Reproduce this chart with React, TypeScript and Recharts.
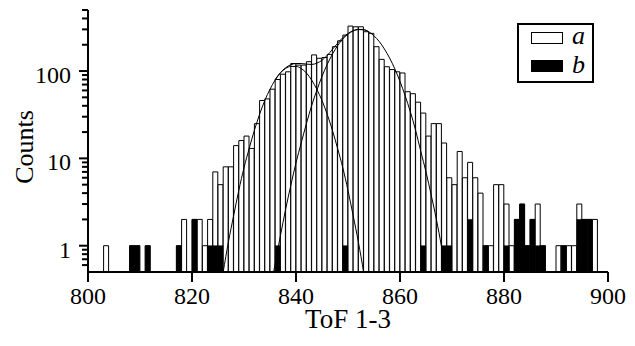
import React from "react";
import { ComposedChart, Bar, Line, XAxis, YAxis, Legend, Label } from "recharts";

const FONT = "'Liberation Serif', 'Times New Roman', serif";

// histogram: one bin per ToF unit, starting at 800
const BIN_START = 800;
const COUNTS_A = [
  0, 0, 0, 1, 0, 0, 0, 0, 1, 1,
  0, 1, 0, 0, 0, 0, 0, 1, 2, 0,
  2, 2, 1, 2, 7, 5, 8, 8, 14, 16,
  18, 13, 25, 46, 48, 62, 80, 92, 98, 122,
  117, 117, 128, 153, 140, 143, 155, 190, 222, 258,
  327, 321, 321, 282, 270, 190, 136, 112, 104, 98,
  95, 58, 55, 44, 33, 18, 25, 25, 15, 6,
  5, 12, 6, 9, 6, 4, 1, 1, 5, 5,
  3, 1, 2, 3, 1, 2, 3, 1, 0, 0,
  1, 1, 1, 1, 3, 2, 2, 2, 0, 0,
];
const COUNTS_B = [
  0, 0, 0, 0, 0, 0, 0, 0, 1, 1,
  0, 1, 0, 0, 0, 0, 0, 1, 0, 0,
  2, 0, 0, 1, 1, 1, 0, 0, 0, 0,
  0, 0, 0, 0, 0, 0, 1, 0, 0, 0,
  0, 0, 0, 0, 0, 0, 0, 0, 0, 1,
  0, 0, 0, 0, 0, 0, 0, 0, 0, 0,
  0, 0, 0, 0, 1, 0, 0, 0, 1, 1,
  0, 0, 0, 2, 0, 0, 1, 0, 0, 0,
  1, 0, 2, 3, 1, 2, 1, 1, 0, 0,
  0, 1, 0, 0, 2, 2, 2, 0, 0, 0,
];

// fitted curves
const G1_X = [826, 827, 828, 829, 830, 831, 832, 833, 834, 835, 836, 837, 838, 839, 840, 841, 842, 843, 844, 845, 846, 847, 848, 849, 850, 851, 852, 853];
const G1_Y = [0.5, 1.1, 2.2, 4.3, 7.8, 13, 21, 32, 46, 62, 79, 95, 107, 113, 113, 107, 95, 79, 62, 46, 32, 21, 13, 7.8, 4.3, 2.2, 1.1, 0.5];
const G2_X = [835.7, 837, 838, 839, 840, 841, 842, 843, 844, 845, 846, 847, 848, 849, 850, 851, 852, 853, 854, 855, 856, 857, 858, 859, 860, 861, 862, 863, 864, 865, 866, 867, 868, 868.9];
const G2_Y = [0.5, 1.3, 2.6, 4.9, 8.9, 15, 25, 40, 60, 87, 119, 156, 195, 233, 265, 288, 299, 297, 281, 253, 218, 179, 141, 106, 76, 52, 34, 21, 12, 7, 3.8, 2, 0.97, 0.5];
const SUM_X = [836, 837, 838, 839, 840, 841, 842, 843, 844, 845, 846, 847, 848, 849, 850, 851, 852, 853, 854];
const SUM_Y = [80, 96, 109, 118, 122, 122, 120, 119, 123, 133, 151, 177, 208, 241, 269, 290, 300, 298, 282];

const X_TICKS = [800, 820, 840, 860, 880, 900];
const Y_TICKS = [0.6, 0.7, 0.8, 0.9, 1, 2, 3, 4, 5, 6, 7, 8, 9, 10, 20, 30, 40, 50, 60, 70, 80, 90, 100, 200, 300, 400, 500];
const Y_LABELED = [1, 10, 100];

const bins = COUNTS_A.map((a, i) => ({
  x: BIN_START + i + 0.5,
  a: a > 0 ? a : null,
  b: COUNTS_B[i] > 0 ? COUNTS_B[i] : null,
}));
const toPoints = (xs: number[], ys: number[]) => xs.map((x, i) => ({ x, y: ys[i] }));

function XTick({ x, y, payload }: any) {
  return (
    <g>
      <line x1={x} x2={x} y1={y} y2={y + 10} stroke="#000" strokeWidth={2} />
      <text x={x} y={y + 32} textAnchor="middle" fontSize={24} fontFamily={FONT} fill="#000">
        {payload.value}
      </text>
    </g>
  );
}

function YTick({ x, y, payload }: any) {
  const major = Y_LABELED.includes(payload.value);
  return (
    <g>
      <line x1={x - (major ? 9 : 6)} x2={x} y1={y} y2={y} stroke="#000" strokeWidth={2} />
      {major && (
        <text x={x - 17} y={y + 12} textAnchor="end" fontSize={24} fontFamily={FONT} fill="#000">
          {payload.value}
        </text>
      )}
    </g>
  );
}

function LegendBox({ payload }: any) {
  const items = (payload || []).filter((p: any) => p.type !== "none");
  return (
    <div
      style={{
        position: "relative",
        width: 77,
        height: 60,
        boxSizing: "border-box",
        border: "2px solid #000",
        background: "#fff",
        fontFamily: FONT,
      }}
    >
      {items.map((p: any, i: number) => (
        <React.Fragment key={p.value}>
          <div
            style={{
              position: "absolute",
              left: 12,
              top: 7 + i * 28,
              width: 32,
              height: 12,
              boxSizing: "border-box",
              border: "1.5px solid #000",
              background: p.value === "a" ? "#fff" : "#000",
            }}
          />
          <span
            style={{
              position: "absolute",
              left: 53,
              top: -2 + i * 29,
              fontSize: 26,
              lineHeight: "26px",
              fontStyle: "italic",
              color: "#000",
            }}
          >
            {p.value}
          </span>
        </React.Fragment>
      ))}
    </div>
  );
}

export default function App() {
  return (
    <div style={{ position: "absolute", left: 0, top: 0, background: "#fff" }}>
      <ComposedChart
        width={635}
        height={346}
        data={bins}
        margin={{ top: 10, right: 27, bottom: 0, left: 0 }}
        barCategoryGap={0}
        barGap={0}
      >
        <XAxis
          dataKey="x"
          type="number"
          domain={[800, 900]}
          allowDataOverflow
          ticks={X_TICKS}
          interval={0}
          tickSize={0}
          tickMargin={0}
          tickLine={false}
          tick={<XTick />}
          axisLine={{ stroke: "#000", strokeWidth: 2 }}
          height={74}
        >
          <Label
            content={({ viewBox }: any) => (
              <text
                x={viewBox.x + viewBox.width / 2}
                y={viewBox.y + 56}
                textAnchor="middle"
                fontSize={27}
                fontFamily={FONT}
                fill="#000"
              >
                ToF 1-3
              </text>
            )}
          />
        </XAxis>
        <XAxis xAxisId="b" dataKey="x" type="number" domain={[800, 900]} allowDataOverflow hide />
        <XAxis xAxisId="c" dataKey="x" type="number" domain={[800, 900]} allowDataOverflow hide />
        <YAxis
          scale="log"
          type="number"
          domain={[0.5, 500]}
          allowDataOverflow
          ticks={Y_TICKS}
          interval={0}
          tickSize={0}
          tickMargin={0}
          tickLine={false}
          tick={<YTick />}
          axisLine={{ stroke: "#000", strokeWidth: 2 }}
          width={88}
        >
          <Label
            content={({ viewBox }: any) => {
              const cx = 24;
              const cy = viewBox.y + viewBox.height / 2 + 6;
              return (
                <text
                  x={cx}
                  y={cy + 9}
                  transform={`rotate(-90 ${cx} ${cy})`}
                  textAnchor="middle"
                  fontSize={26}
                  fontFamily={FONT}
                  fill="#000"
                >
                  Counts
                </text>
              );
            }}
          />
        </YAxis>
        <Legend
          layout="vertical"
          align="center"
          verticalAlign="middle"
          content={<LegendBox />}
          wrapperStyle={{ left: 517, top: 23, right: "auto", bottom: "auto", width: 77, height: 60 }}
        />
        <Bar dataKey="a" name="a" fill="#fff" stroke="#000" strokeWidth={1} isAnimationActive={false} />
        <Bar dataKey="b" name="b" xAxisId="b" fill="#000" stroke="#000" strokeWidth={0.5} isAnimationActive={false} />
        <Line
          data={toPoints(G1_X, G1_Y)}
          xAxisId="c"
          dataKey="y"
          type="monotone"
          stroke="#000"
          strokeWidth={1}
          dot={false}
          legendType="none"
          isAnimationActive={false}
        />
        <Line
          data={toPoints(G2_X, G2_Y)}
          xAxisId="c"
          dataKey="y"
          type="monotone"
          stroke="#000"
          strokeWidth={1}
          dot={false}
          legendType="none"
          isAnimationActive={false}
        />
        <Line
          data={toPoints(SUM_X, SUM_Y)}
          xAxisId="c"
          dataKey="y"
          type="monotone"
          stroke="#000"
          strokeWidth={1}
          dot={false}
          legendType="none"
          isAnimationActive={false}
        />
      </ComposedChart>
    </div>
  );
}
